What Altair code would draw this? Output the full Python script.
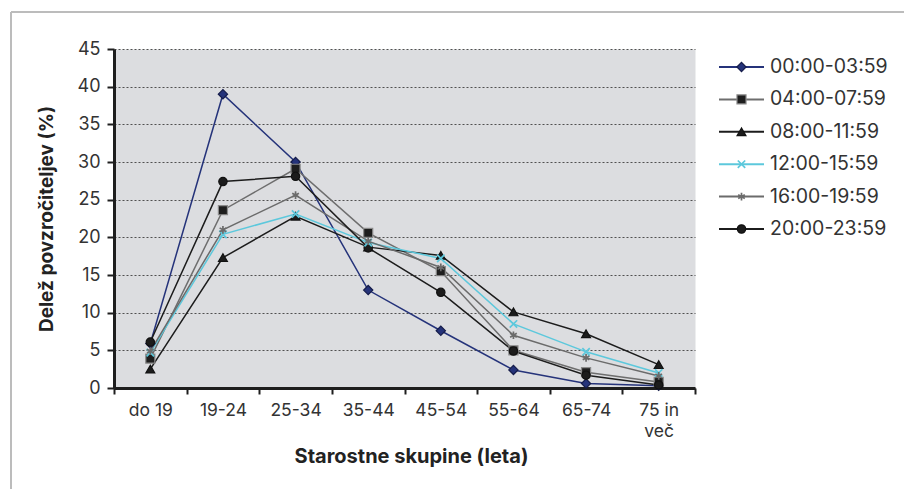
import altair as alt
import pandas as pd

# Age groups on the x axis and the six time-of-day intervals
ages = ["do 19", "19-24", "25-34", "35-44", "45-54", "55-64", "65-74", "75 in več"]
series = ["00:00-03:59", "04:00-07:59", "08:00-11:59",
          "12:00-15:59", "16:00-19:59", "20:00-23:59"]

# Share of offenders (%) per age group, one list per interval
v_00 = [5.9, 39.0, 30.0, 13.0, 7.6, 2.4, 0.6, 0.3]
v_04 = [3.9, 23.6, 29.1, 20.6, 15.5, 5.0, 2.1, 0.8]
v_08 = [2.5, 17.3, 22.8, 18.7, 17.6, 10.1, 7.2, 3.1]
v_12 = [4.7, 20.4, 23.1, 19.3, 17.2, 8.5, 4.8, 2.0]
v_16 = [4.9, 21.0, 25.6, 19.5, 16.0, 7.0, 4.0, 1.6]
v_20 = [6.1, 27.4, 28.1, 18.6, 12.7, 4.9, 1.7, 0.4]
values = [v_00, v_04, v_08, v_12, v_16, v_20]

rows = []
for s, vals in zip(series, values):
    for i, (a, v) in enumerate(zip(ages, vals)):
        rows.append({"skupina": a, "red": i, "interval": s, "delez": v})
df = pd.DataFrame(rows)
leg_df = pd.DataFrame({"interval": series, "pos": list(range(len(series)))})

FONT = "Inter"
TEXT = "#333333"
INK = "#1e1e1e"

X_PATH = "M-0.85,-0.85L0.85,0.85M-0.85,0.85L0.85,-0.85"
STAR_PATH = "M0,-0.9L0,0.9M-0.78,-0.45L0.78,0.45M-0.78,0.45L0.78,-0.45"

color_scale = alt.Scale(domain=series, range=["#25337a", "#6e6e6e", "#1c1c1c",
                                              "#5cc8dc", "#6b6b6b", "#1c1c1c"])
shape_scale = alt.Scale(domain=series, range=["diamond", "square", "triangle-up",
                                              X_PATH, STAR_PATH, "circle"])
size_scale = alt.Scale(domain=series, range=[85, 70, 170, 130, 125, 185])
edge_scale = alt.Scale(domain=series, range=["#151c4a", "#8a8a8a", "#111111",
                                             "#5cc8dc", "#6b6b6b", "#111111"])
fill_scale = alt.Scale(domain=series, range=["#25337a", "#1e1e1e", "#1c1c1c",
                                             "#5cc8dc", "#6b6b6b", "#1c1c1c"])

filled_set = [series[0], series[1], series[2], series[5]]
stroked_set = [series[3], series[4]]

x_enc = alt.X(
    "skupina:N",
    sort=ages,
    bandPosition=0.5,
    scale=alt.Scale(type="band", domain=ages, paddingInner=0, paddingOuter=0),
    axis=alt.Axis(
        title="Starostne skupine (leta)",
        labelAngle=0, labelFont=FONT, labelFontSize=17.5, labelColor=TEXT,
        labelPadding=7, labelLineHeight=21,
        labelExpr="datum.value == '75 in več' ? ['75 in', 'več'] : datum.label",
        tickBand="extent", tickSize=6, tickWidth=2, tickColor=INK,
        domainColor=INK, domainWidth=3, grid=False,
        titleFont=FONT, titleFontSize=20, titleFontWeight="bold", titleColor="#222222",
        titleX=297, titleY=68, titleBaseline="middle", titleAlign="center",
    ),
)
y_enc = alt.Y(
    "delez:Q",
    scale=alt.Scale(domain=[0, 45], nice=False),
    axis=alt.Axis(
        title="Delež povzročiteljev (%)",
        values=list(range(0, 50, 5)),
        labelFont=FONT, labelFontSize=18, labelColor=TEXT, labelPadding=7,
        tickSize=7, tickWidth=2, tickColor=INK,
        domainColor=INK, domainWidth=3,
        grid=True, gridColor="#505050", gridDash=[2, 2], gridWidth=1.2,
        titleFont=FONT, titleFontSize=19, titleFontWeight="bold", titleColor="#222222",
        titleX=-68, titleY=169.5, titleAngle=270, titleAlign="center",
        titleBaseline="middle",
    ),
)

color_enc = alt.Color("interval:N", scale=color_scale, legend=None)
shape_enc = alt.Shape("interval:N", scale=shape_scale, legend=None)
size_enc = alt.Size("interval:N", scale=size_scale, legend=None)

lines = alt.Chart(df).mark_line(strokeWidth=1.5).encode(
    x=x_enc, y=y_enc, color=color_enc, order=alt.Order("red:Q")
)

points_filled = alt.Chart(df).transform_filter(
    alt.FieldOneOfPredicate(field="interval", oneOf=filled_set)
).mark_point(filled=True, opacity=1, strokeWidth=1.2).encode(
    x=x_enc, y=y_enc,
    fill=alt.Fill("interval:N", scale=fill_scale, legend=None),
    stroke=alt.Stroke("interval:N", scale=edge_scale, legend=None),
    shape=shape_enc, size=size_enc,
)

points_stroked = alt.Chart(df).transform_filter(
    alt.FieldOneOfPredicate(field="interval", oneOf=stroked_set)
).mark_point(filled=False, opacity=1, strokeWidth=1.7).encode(
    x=x_enc, y=y_enc, color=color_enc, shape=shape_enc, size=size_enc,
)

# Thin outer frame around the figure (left and top edges)
one = pd.DataFrame({"k": [0]})
frame_v = alt.Chart(one).mark_rule(color="#bcbcbc", strokeWidth=2).encode(
    x=alt.value(-103), y=alt.value(-37), y2=alt.value(440)
)
frame_h = alt.Chart(one).mark_rule(color="#bcbcbc", strokeWidth=2).encode(
    x=alt.value(-103), x2=alt.value(790), y=alt.value(-37)
)

main = alt.layer(frame_v, frame_h, lines, points_filled, points_stroked).properties(
    width=581, height=339,
    view=alt.ViewBackground(fill="#dcdde0", stroke="transparent"),
)

# Legend panel: line sample, marker and label for each interval
lx = alt.Scale(domain=[0, 180], range=[0, 180])
leg_y = alt.Y("pos:Q", scale=alt.Scale(domain=[0, 5], range=[18, 180]), axis=None)
leg_base = alt.Chart(leg_df).encode(y=leg_y)

leg_lines = leg_base.mark_rule(strokeWidth=2).encode(
    x=alt.XDatum(4, scale=lx, axis=None), x2=alt.X2Datum(49), color=color_enc
)
leg_filled = leg_base.transform_filter(
    alt.FieldOneOfPredicate(field="interval", oneOf=filled_set)
).mark_point(filled=True, opacity=1, strokeWidth=1.2).encode(
    x=alt.XDatum(26.5, scale=lx, axis=None),
    fill=alt.Fill("interval:N", scale=fill_scale, legend=None),
    stroke=alt.Stroke("interval:N", scale=edge_scale, legend=None),
    shape=shape_enc, size=size_enc,
)
leg_stroked = leg_base.transform_filter(
    alt.FieldOneOfPredicate(field="interval", oneOf=stroked_set)
).mark_point(filled=False, opacity=1, strokeWidth=1.7).encode(
    x=alt.XDatum(26.5, scale=lx, axis=None),
    color=color_enc, shape=shape_enc, size=size_enc,
)
leg_text = leg_base.mark_text(
    align="left", baseline="middle", font=FONT, fontSize=19.5, color=TEXT
).encode(x=alt.XDatum(55, scale=lx, axis=None), text="interval:N")

legend = alt.layer(leg_lines, leg_filled, leg_stroked, leg_text).properties(
    width=180, height=200,
    view=alt.ViewBackground(fill="transparent", stroke="transparent"),
)

chart = alt.hconcat(main, legend, spacing=20, bounds="flush").properties(
    padding={"left": 9, "top": 10, "right": 0, "bottom": 0},
    background="white",
).configure(font=FONT)

chart.save("out.html", embed_options={"renderer": "svg", "actions": False})
